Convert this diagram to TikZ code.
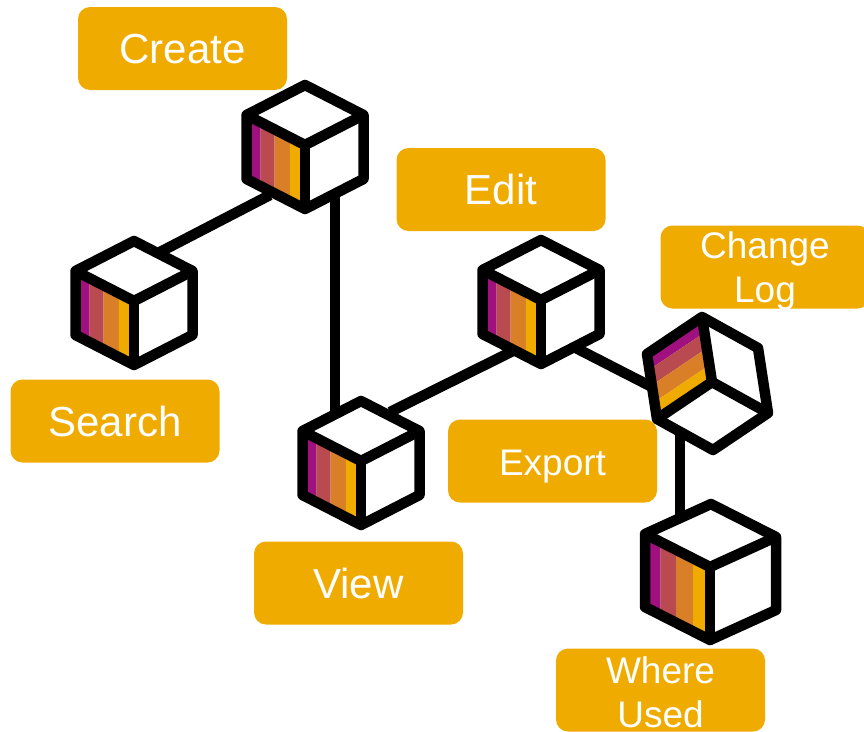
\documentclass[tikz,border=0pt]{standalone}
\usepackage{fontspec}
\setmainfont{Liberation Sans}
\definecolor{amberbox}{HTML}{F0AB00}
\definecolor{stripa}{HTML}{A0107F}
\definecolor{stripb}{HTML}{B94A50}
\definecolor{stripc}{HTML}{D87F28}
\definecolor{stripd}{HTML}{F0AB00}
\tikzset{
  labelbox/.style={fill=amberbox,rounded corners=12pt,minimum width=209pt,minimum height=83pt,inner sep=0pt,text=white,font=\fontsize{42}{48}\selectfont,text height=30pt,text depth=0pt},
  smalllabel/.style={font=\fontsize{37}{45}\selectfont,text height=28pt},
  overlay text/.style={text=white,align=center,inner sep=0pt,font=\fontsize{37}{44}\selectfont,yshift=-4pt},
  linkline/.style={line width=10.5pt,black},
  cubeline/.style={line width=10.5pt,black,line join=round},
  plaincube/.style={x={(-58.5pt,30pt)},y={(0pt,-64pt)},z={(58.5pt,30pt)}},
  largecube/.style={x={(-65pt,33pt)},y={(0pt,-73pt)},z={(66pt,30pt)}},
  tiltcube/.style={x={(-10pt,65pt)},y={(-55pt,-37pt)},z={(56pt,-31pt)}}
}
\newcommand{\cubeicon}[3]{%
  \begin{scope}[shift={#1},#2]
    \coordinate (#3) at (0,0,0);
    \fill[white] (1,0,0) -- (1,0,1) -- (0,0,1) -- (0,1,1) -- (0,1,0) -- (1,1,0) -- cycle;
    \fill[stripa] (1,0,0) -- (1,1,0) -- (.76,1,0) -- (.76,0,0) -- cycle;
    \fill[stripb] (.76,0,0) -- (.76,1,0) -- (.52,1,0) -- (.52,0,0) -- cycle;
    \fill[stripc] (.52,0,0) -- (.52,1,0) -- (.26,1,0) -- (.26,0,0) -- cycle;
    \fill[stripd] (.26,0,0) -- (.26,1,0) -- (0,1,0) -- (0,0,0) -- cycle;
    \draw[cubeline] (1,0,0) -- (1,0,1) -- (0,0,1) -- (0,1,1) -- (0,1,0) -- (1,1,0) -- cycle;
    \draw[cubeline] (1,0,0) -- (0,0,0) -- (0,0,1);
    \draw[cubeline] (0,0,0) -- (0,1,0);
  \end{scope}}
\begin{document}
\begin{tikzpicture}[x=1pt,y=-1pt]
\useasboundingbox (0,0) rectangle (864,731);
% connector ends
\coordinate (createA) at (270,195);
\coordinate (searchA) at (160,252);
\coordinate (createB) at (335,190);
\coordinate (viewB) at (335,412);
\coordinate (viewC) at (390,412);
\coordinate (editC) at (515,350);
\coordinate (editD) at (570,345);
\coordinate (changeD) at (652,387);
\coordinate (changeE) at (680,430);
\coordinate (whereE) at (680,522);
\draw[linkline] (createA) -- (searchA);
\draw[linkline] (createB) -- (viewB);
\draw[linkline] (viewC) -- (editC);
\draw[linkline] (editD) -- (changeD);
\draw[linkline] (changeE) -- (whereE);
% cubes
\cubeicon{(305,145)}{plaincube}{createcube}
\cubeicon{(134,301)}{plaincube}{searchcube}
\cubeicon{(541,300)}{plaincube}{editcube}
\cubeicon{(361,461)}{plaincube}{viewcube}
\cubeicon{(712,382)}{tiltcube}{changecube}
\cubeicon{(710,567)}{largecube}{wherecube}
% labels
\node[labelbox] (create) at (182.5,48.5) {Create};
\node[labelbox] (edit) at (501,189.5) {Edit};
\node[labelbox,label={[overlay text]center:Change\\Log}] (change) at (765,267) {};
\node[labelbox] (search) at (115,421) {Search};
\node[labelbox,smalllabel] (export) at (552.5,461) {Export};
\node[labelbox] (view) at (358.5,583) {View};
\node[labelbox,label={[overlay text,yshift=2pt]center:Where\\Used}] (where) at (660.5,690) {};
\end{tikzpicture}
\end{document}
